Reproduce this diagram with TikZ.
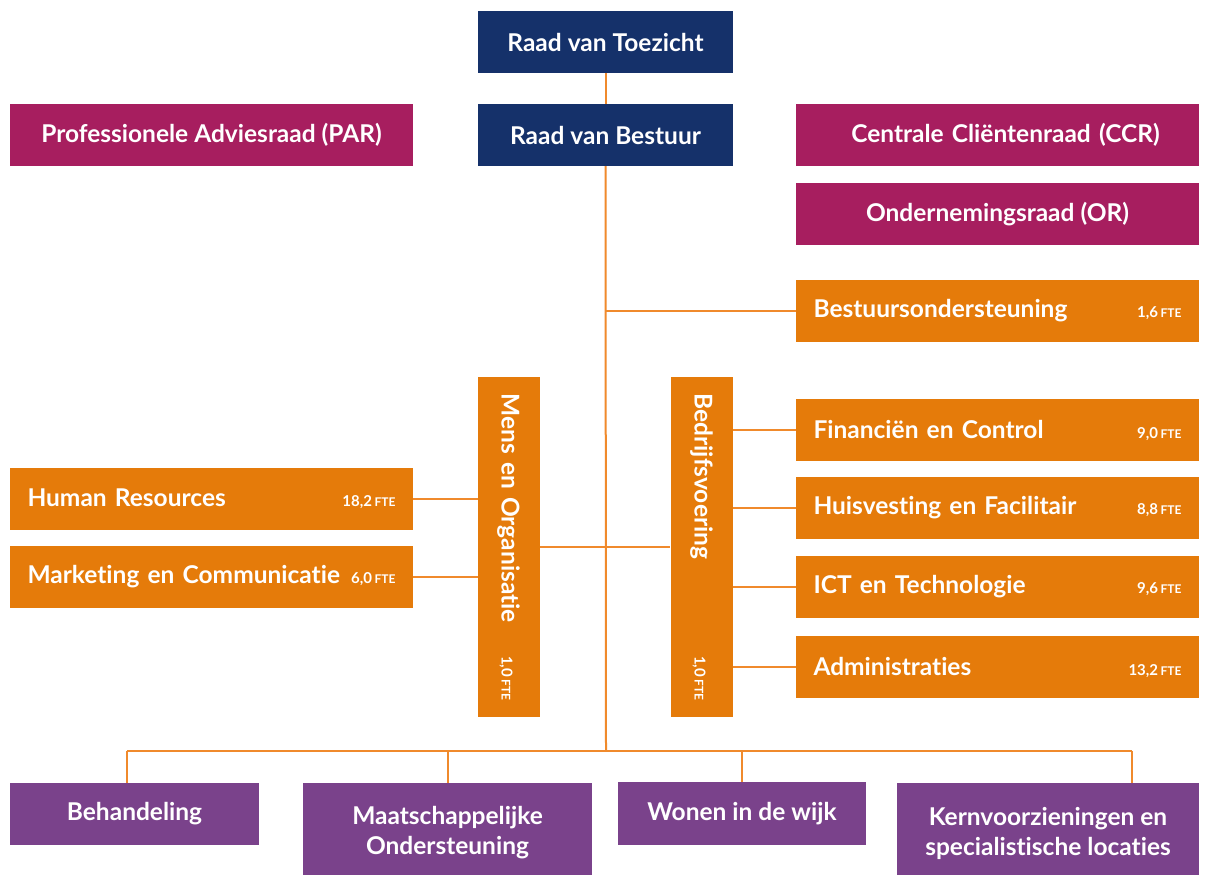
\documentclass[tikz,border=0pt]{standalone}
\usepackage{fontspec}
\setmainfont{Lato}[Ligatures=NoCommon]
\usepackage{tikz}
\usetikzlibrary{backgrounds,calc}
\definecolor{rvbblue}{HTML}{15316A}
\definecolor{raadrood}{HTML}{A71E5F}
\definecolor{staforanje}{HTML}{E57B0A}
\definecolor{lijnoranje}{HTML}{F08A2C}
\definecolor{paars}{HTML}{7A428B}
\newcommand{\fte}[1]{{\fontsize{15}{15}\selectfont #1\,\fontsize{12}{12}\selectfont FTE}}

\begin{document}
\begin{tikzpicture}[x=1pt,y=-1pt,
  blok/.style={rectangle, text=white, inner sep=0pt, font=\fontsize{24.5}{30}\selectfont\bfseries},
  bestuur/.style={blok, fill=rvbblue, minimum width=255, minimum height=62},
  raad/.style={blok, fill=raadrood, minimum width=403, minimum height=62},
  staf/.style={blok, fill=staforanje, minimum width=403, minimum height=62, text width=368},
  directie/.style={blok, fill=staforanje, minimum width=340, minimum height=62, text width=307, rotate=-90},
  zorg/.style={blok, fill=paars, align=center},
  lijn/.style={draw=lijnoranje, line width=2pt}]
\useasboundingbox (0,0) rectangle (1205,875);
\clip (0,0) rectangle (1205,875);

\node[bestuur] (rvt) at (605.5,42) {Raad van Toezicht};
\node[bestuur] (rvb) at (605.5,135) {Raad van Bestuur};
\node[raad] (par) at (211.5,135) {Professionele Adviesraad (PAR)};
\node[raad, text width=403, align=center] (ccr) at (997.5,135) {\hspace*{16pt}Centrale Cliëntenraad (CCR)};
\node[raad] (or) at (997.5,214) {Ondernemingsraad (OR)};
\node[staf] (bo) at (997.5,311) {Bestuursondersteuning\hfill\fte{1,6}};

\node[directie] (mo) at (508.5,547) {Mens en Organisatie\hfill\fte{1,0}};
\node[directie] (bv) at (701.5,547) {Bedrijfsvoering\hfill\fte{1,0}};

\node[staf] (hr) at (211.5,499) {Human Resources\hfill\fte{18,2}};
\node[staf] (mc) at (211.5,577) {Marketing en Communicatie\hfill\fte{6,0}};
\node[staf] (fin) at (997.5,430) {Financiën en Control\hfill\fte{9,0}};
\node[staf] (hf) at (997.5,508) {Huisvesting en Facilitair\hfill\fte{8,8}};
\node[staf] (ict) at (997.5,587) {ICT en Technologie\hfill\fte{9,6}};
\node[staf] (adm) at (997.5,667) {Administraties\hfill\fte{13,2}};

\node[zorg, minimum width=249, minimum height=62] (beh) at (134.5,814) {Behandeling};
\node[zorg, minimum width=289, minimum height=100] (mo2) at (447.5,833) {Maatschappelijke\\Ondersteuning};
\node[zorg, minimum width=248, minimum height=63] (wijk) at (742,813.5) {Wonen in de wijk};
\node[zorg, minimum width=302, minimum height=100] (kern) at (1048,833) {Kernvoorzieningen en\\specialistische locaties};

\coordinate (bus) at (606,751);
\coordinate (bus west) at (127,751);
\coordinate (bus east) at (1132,751);

\begin{scope}[on background layer]
\fill[white] (0,0) rectangle (1205,875);
\draw[lijn] (rvt) -- (rvb);
\draw[lijn] (rvb) -- (bus);
\draw[lijn] (bo) -- (bo -| rvb);
\draw[lijn] (mo) -- (bv);
\draw[lijn] (hr) -- (hr -| mo);
\draw[lijn] (mc) -- (mc -| mo);
\draw[lijn] (fin) -- (fin -| bv);
\draw[lijn] (hf) -- (hf -| bv);
\draw[lijn] (ict) -- (ict -| bv);
\draw[lijn] (adm) -- (adm -| bv);
\draw[lijn] (bus west) -- (bus east);
\draw[lijn] (bus west) -- (beh.north -| bus west);
\draw[lijn] (mo2.north |- bus) -- (mo2.north);
\draw[lijn] (wijk.north |- bus) -- (wijk.north);
\draw[lijn] (bus east) -- (kern.north -| bus east);
\end{scope}
\end{tikzpicture}
\end{document}
